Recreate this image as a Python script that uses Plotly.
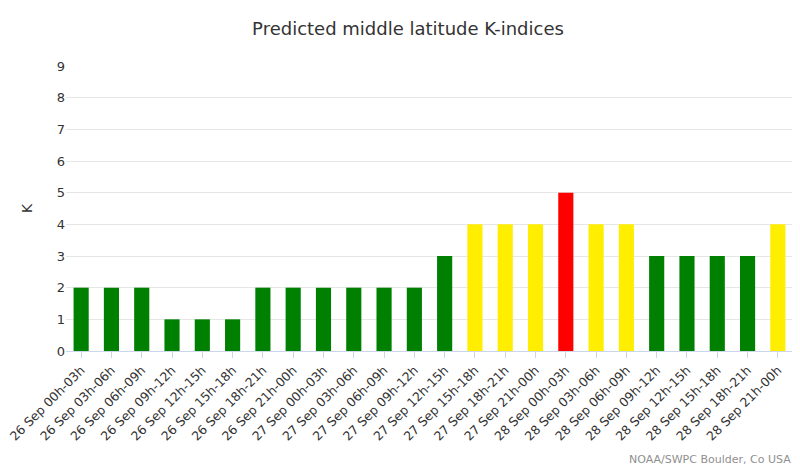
import plotly.graph_objects as go

periods = [
    "26 Sep 00h-03h", "26 Sep 03h-06h", "26 Sep 06h-09h", "26 Sep 09h-12h",
    "26 Sep 12h-15h", "26 Sep 15h-18h", "26 Sep 18h-21h", "26 Sep 21h-00h",
    "27 Sep 00h-03h", "27 Sep 03h-06h", "27 Sep 06h-09h", "27 Sep 09h-12h",
    "27 Sep 12h-15h", "27 Sep 15h-18h", "27 Sep 18h-21h", "27 Sep 21h-00h",
    "28 Sep 00h-03h", "28 Sep 03h-06h", "28 Sep 06h-09h", "28 Sep 09h-12h",
    "28 Sep 12h-15h", "28 Sep 15h-18h", "28 Sep 18h-21h", "28 Sep 21h-00h",
]
k_values = [2, 2, 2, 1, 1, 1, 2, 2, 2, 2, 2, 2, 3, 4, 4, 4, 5, 4, 4, 3, 3, 3, 3, 4]

def k_color(k):
    if k >= 5:
        return "#ff0000"
    if k == 4:
        return "#ffee00"
    return "#008000"

fig = go.Figure(go.Bar(x=periods, y=k_values, marker_color=[k_color(k) for k in k_values],
                       marker_line_width=0))

fig.update_layout(
    width=800, height=467,
    margin=dict(l=58, r=15, t=58, b=124),
    paper_bgcolor="white", plot_bgcolor="white",
    font=dict(family="DejaVu Sans", color="#333333"),
    title=dict(text="Predicted middle latitude K-indices", x=0.5, xanchor="center",
               y=0.955, yanchor="middle", font=dict(size=18, color="#333333")),
    bargap=0.5,
    showlegend=False,
    annotations=[dict(text="NOAA/SWPC Boulder, Co USA", xref="paper", yref="paper",
                      x=1.0, y=-0.38, xanchor="right", yanchor="middle", showarrow=False,
                      font=dict(size=11, color="#909090"))],
)
fig.update_xaxes(tickangle=-45, tickfont=dict(size=12.5, color="#333333"),
                 showline=True, linecolor="#ccd6eb", ticks="outside", ticklen=6,
                 tickcolor="#ccd6eb", showgrid=False, automargin=False)
fig.update_yaxes(range=[0, 9], dtick=1, gridcolor="#e6e6e6", zeroline=False,
                 tickfont=dict(size=13, color="#333333"), automargin=False,
                 title=dict(text="K", font=dict(size=14, color="#333333"), standoff=20))

fig.write_html("out.html")
